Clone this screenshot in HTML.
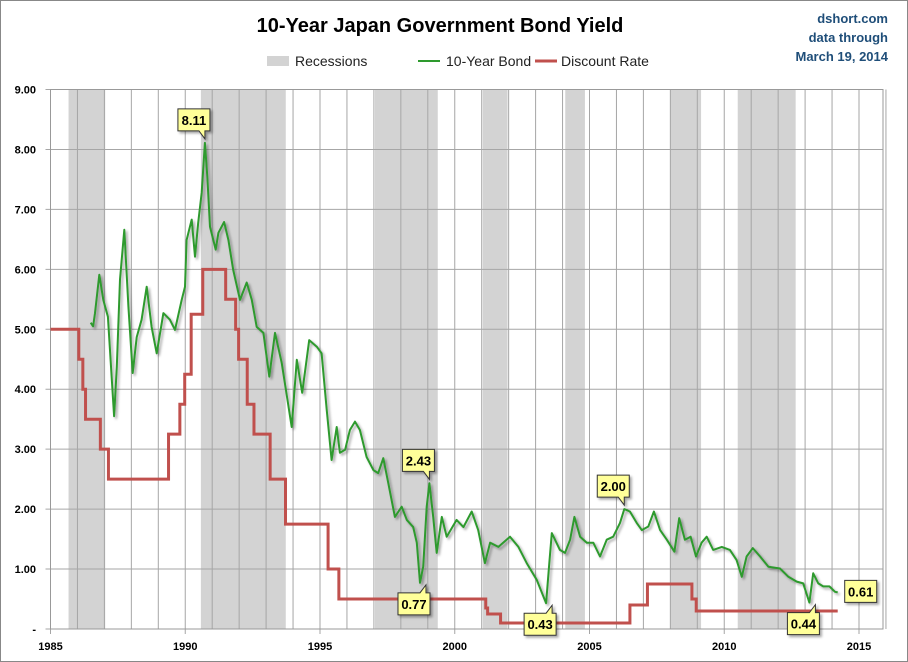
<!DOCTYPE html>
<html><head><meta charset="utf-8"><style>
body{margin:0;background:#fff;}
svg{display:block;font-family:"Liberation Sans",Arial,sans-serif;}
</style></head><body>
<svg id="chart" width="908" height="662" viewBox="0 0 908 662">
<defs><filter id="sh" x="-10%" y="-10%" width="130%" height="140%"><feDropShadow dx="2" dy="2" stdDeviation="1.2" flood-color="#000" flood-opacity="0.35"/></filter></defs>
<rect x="0.5" y="0.5" width="907" height="661" fill="#fff" stroke="#888"/>
<text x="440" y="32" text-anchor="middle" font-size="20" font-weight="bold" fill="#000">10-Year Japan Government Bond Yield</text>
<g font-size="13" font-weight="bold" fill="#1f4e79" text-anchor="end">
<text x="888" y="23">dshort.com</text><text x="888" y="42">data through</text><text x="888" y="61">March 19, 2014</text></g>
<g font-size="14" fill="#222">
<g><rect x="267" y="56" width="22" height="10" fill="#d3d3d3"/><text x="295" y="66">Recessions</text></g>
<g><line x1="418" y1="61" x2="440" y2="61" stroke="#2e9a2e" stroke-width="2"/><text x="446" y="66">10-Year Bond</text></g>
<g><line x1="535" y1="61" x2="557" y2="61" stroke="#c0504d" stroke-width="3"/><text x="561" y="66">Discount Rate</text></g>
</g>
<g id="plot"></g>
</svg>
<script>
const recStart=[1985.67,1990.58,1997.04,2001.04,2004.1,2007.99,2010.5];
const recEnd=[1987.03,1993.73,1999.37,2001.96,2004.83,2009.14,2012.65];
const yTicks=[0,1,2,3,4,5,6,7,8,9];
const yTickLabels=["-","1.00","2.00","3.00","4.00","5.00","6.00","7.00","8.00","9.00"];
const xTickYears=[1985,1990,1995,2000,2005,2010,2015];
const rateDates=[1985,1986.05,1986.2,1986.3,1986.85,1987.15,1989.38,1989.8,1989.98,1990.22,1990.65,1991.5,1991.87,1991.98,1992.3,1992.55,1993.15,1993.72,1995.3,1995.7,2001.15,2001.22,2001.7,2006.5,2007.15,2008.8,2008.96,2014.21];
const rateValues=[5,4.5,4,3.5,3,2.5,3.25,3.75,4.25,5.25,6,5.5,5,4.5,3.75,3.25,2.5,1.75,1,0.5,0.35,0.25,0.1,0.4,0.75,0.5,0.3,0.3];
const bondDates=[1986.49,1986.58,1986.65,1986.81,1986.96,1987.13,1987.36,1987.46,1987.58,1987.74,1987.89,1988.05,1988.2,1988.38,1988.57,1988.75,1988.94,1989.19,1989.43,1989.62,1989.87,1989.99,1990.05,1990.24,1990.36,1990.48,1990.61,1990.73,1990.82,1990.92,1991.13,1991.23,1991.44,1991.6,1991.78,1992.03,1992.28,1992.47,1992.65,1992.9,1993.12,1993.33,1993.58,1993.95,1994.14,1994.34,1994.6,1994.88,1995.06,1995.25,1995.43,1995.62,1995.74,1995.93,1996.11,1996.3,1996.48,1996.73,1996.98,1997.16,1997.35,1997.53,1997.78,1998.03,1998.22,1998.46,1998.59,1998.71,1998.83,1998.96,1999.06,1999.2,1999.33,1999.52,1999.7,2000.07,2000.32,2000.63,2000.87,2001.12,2001.31,2001.62,2002.05,2002.36,2002.67,2003.04,2003.39,2003.51,2003.6,2003.72,2003.9,2004.09,2004.28,2004.44,2004.65,2004.9,2005.14,2005.39,2005.64,2005.88,2006.13,2006.29,2006.5,2006.75,2006.94,2007.18,2007.39,2007.62,2007.87,2008.15,2008.33,2008.54,2008.75,2008.95,2009.16,2009.35,2009.59,2009.91,2010.21,2010.46,2010.65,2010.83,2011.06,2011.33,2011.64,2012.07,2012.38,2012.69,2012.93,2013.16,2013.3,2013.49,2013.67,2013.9,2014.11,2014.21];
const bondValues=[5.11,5.05,5.27,5.91,5.49,5.21,3.55,4.37,5.83,6.66,5.38,4.27,4.87,5.16,5.71,5.04,4.6,5.27,5.16,4.99,5.49,5.71,6.49,6.83,6.21,6.78,7.28,8.11,7.55,6.71,6.33,6.61,6.79,6.49,5.99,5.49,5.78,5.49,5.04,4.94,4.21,4.94,4.44,3.37,4.49,3.94,4.82,4.71,4.6,3.66,2.82,3.37,2.94,2.99,3.32,3.46,3.32,2.87,2.65,2.6,2.85,2.44,1.87,2.04,1.82,1.7,1.44,0.77,1.04,2.04,2.43,1.87,1.27,1.87,1.54,1.82,1.7,1.96,1.65,1.1,1.44,1.37,1.54,1.37,1.1,0.82,0.43,1.1,1.6,1.49,1.32,1.27,1.49,1.87,1.54,1.44,1.44,1.21,1.49,1.54,1.77,2.0,1.96,1.77,1.65,1.71,1.96,1.65,1.49,1.29,1.85,1.49,1.54,1.21,1.44,1.54,1.32,1.37,1.32,1.15,0.87,1.21,1.35,1.21,1.04,1.01,0.87,0.79,0.76,0.44,0.93,0.76,0.71,0.71,0.62,0.61];
const calloutDates=[1990.73,1999.06,1998.71,2003.39,2006.29,2013.16,2014.21];
const calloutValues=[8.11,2.43,0.77,0.43,2.00,0.44,0.61];
const calloutLabels=["8.11","2.43","0.77","0.43","2.00","0.44","0.61"];
const calloutPlace=["above","above","below","below","above","below","right"];

const NS="http://www.w3.org/2000/svg";
const L=50.5,R=883,T=89.5,B=629;
const x=y=>L+(y-1985)*26.95;
const yS=v=>B-v*(B-T)/9;
const plot=document.getElementById('plot');
function mk(tag,at,parent){const e=document.createElementNS(NS,tag);for(const k in at)e.setAttribute(k,at[k]);(parent||plot).appendChild(e);return e;}

for(let i=0;i<recStart.length;i++){
 const r=mk('rect',{x:x(recStart[i]),y:T,width:x(recEnd[i])-x(recStart[i]),height:B-T,fill:'#d3d3d3'});
 
 
}
for(let yr=1985;yr<=2016;yr++){
 const l=mk('line',{x1:x(yr),x2:x(yr),y1:T,y2:B+5*(xTickYears.includes(yr)?1:0),stroke:'#a6a6a6','stroke-width':1});
 
 
}
for(let i=0;i<yTicks.length;i++){
 const l=mk('line',{x1:L-5,x2:R,y1:yS(yTicks[i]),y2:yS(yTicks[i]),stroke:'#a6a6a6','stroke-width':1});
 
 
 const t=mk('text',{x:36,y:yS(yTicks[i])+4,'text-anchor':'end','font-size':11,'font-weight':'bold',fill:'#000'});
 t.textContent=yTickLabels[i];
 
 
}
for(const yr of xTickYears){
 const t=mk('text',{x:x(yr),y:650,'text-anchor':'middle','font-size':11,'font-weight':'bold',fill:'#000'});
 t.textContent=String(yr);
 
 
}
const frame=mk('rect',{x:L,y:T,width:R-L,height:B-T,fill:'none',stroke:'#999'});



let d='';
for(let i=0;i<rateDates.length;i++){
 if(i===0)d+='M'+x(rateDates[0])+','+yS(rateValues[0]);
 else d+=' H'+x(rateDates[i])+' V'+yS(rateValues[i]);
}
const rl=mk('path',{d:d,fill:'none',stroke:'#c0504d','stroke-width':3});



const pts=bondDates.map((t,i)=>x(t).toFixed(1)+','+yS(bondValues[i]).toFixed(1)).join(' ');
const bl=mk('polyline',{points:pts,fill:'none',stroke:'#2e9a2e','stroke-width':2,'stroke-linejoin':'round',filter:'url(#sh)'});



for(let i=0;i<calloutDates.length;i++){
 const px=x(calloutDates[i]),py=yS(calloutValues[i]);
 const w=32,h=22;let bx,by,path;
 if(calloutPlace[i]==='above'){bx=px-27;by=py-34;
  path=`M${bx},${by} h${w} v${h} h-5 l0,8 l-6,-8 h-${w-11} z`;}
 else if(calloutPlace[i]==='below'){bx=px-22;by=py+10;
  path=`M${bx},${by} h${w-10} l6,-8 l0,8 h4 v${h} h-${w} z`;}
 else {bx=px+7;by=py-12;path=`M${bx},${by} h${w} v${h} h-${w} z`;}
 const g=mk('g',{});
 
 
 mk('path',{d:path,fill:'#ffff99',stroke:'#333','stroke-width':1,filter:'url(#sh)'},g);
 const t=mk('text',{x:bx+w/2,y:by+16,'text-anchor':'middle','font-size':13,'font-weight':'bold',fill:'#000'},g);
 t.textContent=calloutLabels[i];
}
</script>
</body></html>
